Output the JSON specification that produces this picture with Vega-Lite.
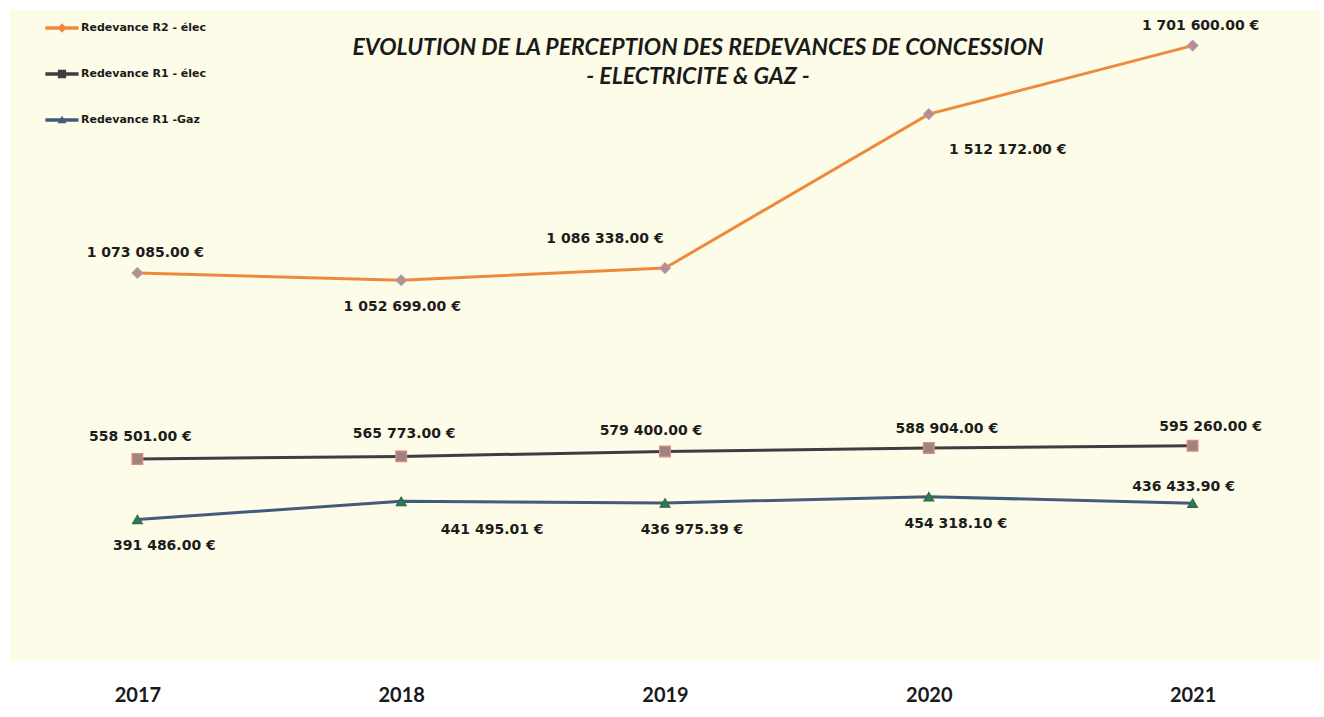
{
  "$schema": "https://vega.github.io/schema/vega-lite/v6.json",
  "autosize": {"type": "none"},
  "width": 1310,
  "height": 651,
  "padding": {"left": 10, "top": 10, "right": 4, "bottom": 56},
  "background": "#ffffff",
  "config": {
    "view": {"fill": "#fcfce9", "stroke": null},
    "text": {"font": "DejaVu Sans", "fontWeight": "bold", "fontSize": 14, "color": "#1c1c1c"}
  },
  "title": {
    "text": ["EVOLUTION DE LA PERCEPTION DES REDEVANCES DE CONCESSION", "- ELECTRICITE & GAZ -"],
    "anchor": "middle",
    "frame": "group",
    "orient": "top",
    "baseline": "top",
    "offset": 0,
    "dy": 79,
    "dx": 33,
    "lineHeight": 29,
    "font": "Lato",
    "fontStyle": "italic",
    "fontWeight": "bold",
    "fontSize": 23,
    "color": "#1a1a1a"
  },
  "data": {
    "values": [
      {"year": "2017", "series": "Redevance R2 - élec", "value": 1073085, "label": "1 073 085.00 €"},
      {"year": "2018", "series": "Redevance R2 - élec", "value": 1052699, "label": "1 052 699.00 €"},
      {"year": "2019", "series": "Redevance R2 - élec", "value": 1086338, "label": "1 086 338.00 €"},
      {"year": "2020", "series": "Redevance R2 - élec", "value": 1512172, "label": "1 512 172.00 €"},
      {"year": "2021", "series": "Redevance R2 - élec", "value": 1701600, "label": "1 701 600.00 €"},
      {"year": "2017", "series": "Redevance R1 - élec", "value": 558501, "label": "558 501.00 €"},
      {"year": "2018", "series": "Redevance R1 - élec", "value": 565773, "label": "565 773.00 €"},
      {"year": "2019", "series": "Redevance R1 - élec", "value": 579400, "label": "579 400.00 €"},
      {"year": "2020", "series": "Redevance R1 - élec", "value": 588904, "label": "588 904.00 €"},
      {"year": "2021", "series": "Redevance R1 - élec", "value": 595260, "label": "595 260.00 €"},
      {"year": "2017", "series": "Redevance  R1 -Gaz", "value": 391486, "label": "391 486.00 €"},
      {"year": "2018", "series": "Redevance  R1 -Gaz", "value": 441495.01, "label": "441 495.01 €"},
      {"year": "2019", "series": "Redevance  R1 -Gaz", "value": 436975.39, "label": "436 975.39 €"},
      {"year": "2020", "series": "Redevance  R1 -Gaz", "value": 454318.10, "label": "454 318.10 €"},
      {"year": "2021", "series": "Redevance  R1 -Gaz", "value": 436433.90, "label": "436 433.90 €"}
    ]
  },
  "encoding": {
    "x": {
      "field": "year", "type": "ordinal",
      "scale": {"type": "point", "padding": 0.483},
      "axis": {
        "title": null, "domain": false, "ticks": false, "tickSize": 0, "grid": false,
        "labelAngle": 0, "labelPadding": 24, "labelFont": "Lato", "labelFontWeight": "bold",
        "labelFontSize": 20, "labelColor": "#1a1a1a"
      }
    },
    "y": {
      "field": "value", "type": "quantitative",
      "scale": {"domain": [0, 1800000], "nice": false, "zero": true},
      "axis": null
    }
  },
  "layer": [
    {
      "mark": {"type": "line", "strokeWidth": 3},
      "encoding": {
        "color": {
          "field": "series", "type": "nominal",
          "scale": {
            "domain": ["Redevance R2 - élec", "Redevance R1 - élec", "Redevance  R1 -Gaz"],
            "range": ["#ef8a3c", "#3d3d42", "#435a7c"]
          },
          "legend": {
            "title": null,
            "orient": "none",
            "legendX": 35,
            "legendY": 1,
            "rowPadding": 24,
            "symbolSize": 1100,
            "symbolStrokeWidth": 0,
            "labelFont": "DejaVu Sans",
            "labelFontWeight": "bold",
            "labelFontSize": 11,
            "labelColor": "#1a1a1a",
            "labelOffset": 2,
            "encode": {
              "symbols": {
                "update": {
                  "shape": {"signal": "datum.value === 'Redevance R2 - élec' ? 'M-1,-0.1H1V0.1H-1Z M0,-0.28L0.28,0L0,0.28L-0.28,0Z' : datum.value === 'Redevance R1 - élec' ? 'M-1,-0.1H1V0.1H-1Z M-0.25,-0.25H0.25V0.25H-0.25Z' : 'M-1,-0.1H1V0.1H-1Z M0,-0.25L0.27,0.2H-0.27Z'"},
                  "fill": {"signal": "datum.value === 'Redevance R2 - élec' ? '#ef8a3c' : datum.value === 'Redevance R1 - élec' ? '#3d3d42' : '#435a7c'"},
                  "stroke": {"value": "transparent"},
                  "strokeWidth": {"value": 0},
                  "size": {"value": 1100},
                  "opacity": {"value": 1}
                }
              }
            }
          }
        }
      }
    },
    {
      "transform": [{"filter": "datum.series === 'Redevance R2 - élec'"}],
      "mark": {"type": "point", "shape": "diamond", "filled": true, "opacity": 1, "size": 110, "fill": "#c08a88", "stroke": "#a0a0b0", "strokeWidth": 1.2}
    },
    {
      "transform": [{"filter": "datum.series === 'Redevance R1 - élec'"}],
      "mark": {"type": "point", "shape": "square", "filled": true, "opacity": 1, "size": 115, "fill": "#a08282", "stroke": "#e08a78", "strokeWidth": 1.2}
    },
    {
      "transform": [{"filter": "datum.series === 'Redevance  R1 -Gaz'"}],
      "mark": {"type": "point", "shape": "triangle-up", "filled": true, "opacity": 1, "size": 95, "fill": "#2f7a52", "stroke": "#2f6a4a", "strokeWidth": 1.2}
    },
    {
      "transform": [{"filter": "datum.series === 'Redevance R2 - élec' && (datum.year === '2017' || datum.year === '2021')"}],
      "mark": {"type": "text", "dx": 8, "dy": -20},
      "encoding": {"text": {"field": "label"}}
    },
    {
      "transform": [{"filter": "datum.series === 'Redevance R2 - élec' && datum.year === '2018'"}],
      "mark": {"type": "text", "dx": 1, "dy": 27},
      "encoding": {"text": {"field": "label"}}
    },
    {
      "transform": [{"filter": "datum.series === 'Redevance R2 - élec' && datum.year === '2019'"}],
      "mark": {"type": "text", "dx": -60, "dy": -29},
      "encoding": {"text": {"field": "label"}}
    },
    {
      "transform": [{"filter": "datum.series === 'Redevance R2 - élec' && datum.year === '2020'"}],
      "mark": {"type": "text", "dx": 79, "dy": 36},
      "encoding": {"text": {"field": "label"}}
    },
    {
      "transform": [{"filter": "datum.series === 'Redevance R1 - élec' && (datum.year === '2017' || datum.year === '2018')"}],
      "mark": {"type": "text", "dx": 3, "dy": -22},
      "encoding": {"text": {"field": "label"}}
    },
    {
      "transform": [{"filter": "datum.series === 'Redevance R1 - élec' && datum.year === '2019'"}],
      "mark": {"type": "text", "dx": -14, "dy": -20},
      "encoding": {"text": {"field": "label"}}
    },
    {
      "transform": [{"filter": "datum.series === 'Redevance R1 - élec' && (datum.year === '2020' || datum.year === '2021')"}],
      "mark": {"type": "text", "dx": 18, "dy": -19},
      "encoding": {"text": {"field": "label"}}
    },
    {
      "transform": [{"filter": "datum.series === 'Redevance  R1 -Gaz' && (datum.year === '2017' || datum.year === '2019' || datum.year === '2020')"}],
      "mark": {"type": "text", "dx": 27, "dy": 27},
      "encoding": {"text": {"field": "label"}}
    },
    {
      "transform": [{"filter": "datum.series === 'Redevance  R1 -Gaz' && datum.year === '2018'"}],
      "mark": {"type": "text", "dx": 91, "dy": 29},
      "encoding": {"text": {"field": "label"}}
    },
    {
      "transform": [{"filter": "datum.series === 'Redevance  R1 -Gaz' && datum.year === '2021'"}],
      "mark": {"type": "text", "dx": -9, "dy": -16},
      "encoding": {"text": {"field": "label"}}
    }
  ]
}
